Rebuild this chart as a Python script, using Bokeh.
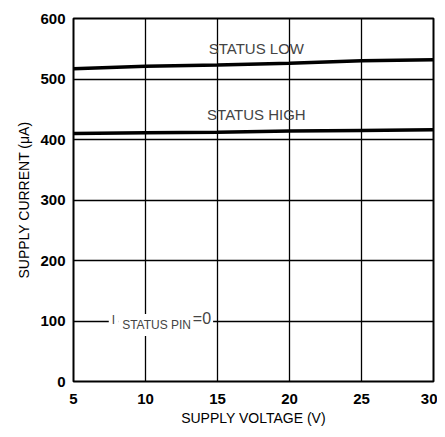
from bokeh.plotting import figure
from bokeh.models import Label, FixedTicker, Range1d
from bokeh.embed import file_html
from bokeh.resources import INLINE

voltage = [5, 10, 15, 20, 25, 30]
current_low = [517, 521, 523, 526, 530, 532]
current_high = [410, 411, 412, 414, 415, 416]
x_ticks = [5, 10, 15, 20, 25, 30]
y_ticks = [0, 100, 200, 300, 400, 500, 600]

FONT = "Liberation Sans"

p = figure(width=437, height=429, output_backend="svg", toolbar_location=None,
           x_range=Range1d(5, 30), y_range=Range1d(0, 600),
           min_border_left=73, min_border_right=4, min_border_top=18, min_border_bottom=48)
p.background_fill_color = "white"
p.border_fill_color = "white"
p.outline_line_color = "black"
p.outline_line_width = 2

for ax in (p.xaxis, p.yaxis):
    ax.axis_line_color = None
    ax.major_tick_line_color = None
    ax.minor_tick_line_color = None
    ax.major_tick_out = 0
    ax.major_tick_in = 0
    ax.minor_tick_out = 0
    ax.major_label_text_font = FONT
    ax.major_label_text_font_size = "15px"
    ax.major_label_text_font_style = "bold"
    ax.major_label_text_color = "black"
    ax.axis_label_text_font = FONT
    ax.axis_label_text_font_size = "14px"
    ax.axis_label_text_font_style = "normal"
    ax.axis_label_text_color = "black"

p.xaxis.ticker = FixedTicker(ticks=x_ticks)
p.yaxis.ticker = FixedTicker(ticks=y_ticks)
p.xaxis.axis_label = "SUPPLY VOLTAGE (V)"
p.yaxis.axis_label = "SUPPLY CURRENT (μA)"
p.xaxis.major_label_standoff = 12
p.yaxis.major_label_standoff = 8
p.xaxis.axis_label_standoff = 3
p.yaxis.axis_label_standoff = 5

p.xgrid.ticker = FixedTicker(ticks=x_ticks)
p.ygrid.ticker = FixedTicker(ticks=y_ticks)
for g in (p.xgrid, p.ygrid):
    g.grid_line_color = "black"
    g.grid_line_width = 1.3

p.line(voltage, current_low, line_color="black", line_width=3.5)
p.line(voltage, current_high, line_color="black", line_width=3.5)

p.add_layout(Label(x=17.7, y=551, text="STATUS LOW", text_align="center",
                   text_baseline="middle", text_font=FONT, text_font_size="15px"))
p.add_layout(Label(x=17.7, y=441, text="STATUS HIGH", text_align="center",
                   text_baseline="middle", text_font=FONT, text_font_size="15px"))

p.add_layout(Label(x=7.45, y=100, y_offset=1, text="I", text_align="left",
                   text_baseline="middle", text_font=FONT, text_font_size="12px",
                   background_fill_color="white", padding=3))
p.add_layout(Label(x=8.1, y=100, y_offset=-4, text="STATUS PIN", text_align="left",
                   text_baseline="middle", text_font=FONT, text_font_size="12px",
                   background_fill_color="white", padding=4))
p.add_layout(Label(x=13.15, y=100, y_offset=3, text="=0", text_align="left",
                   text_baseline="middle", text_font=FONT, text_font_size="16px",
                   background_fill_color="white", padding=2))

open("out.html", "w").write(file_html(p, INLINE))
